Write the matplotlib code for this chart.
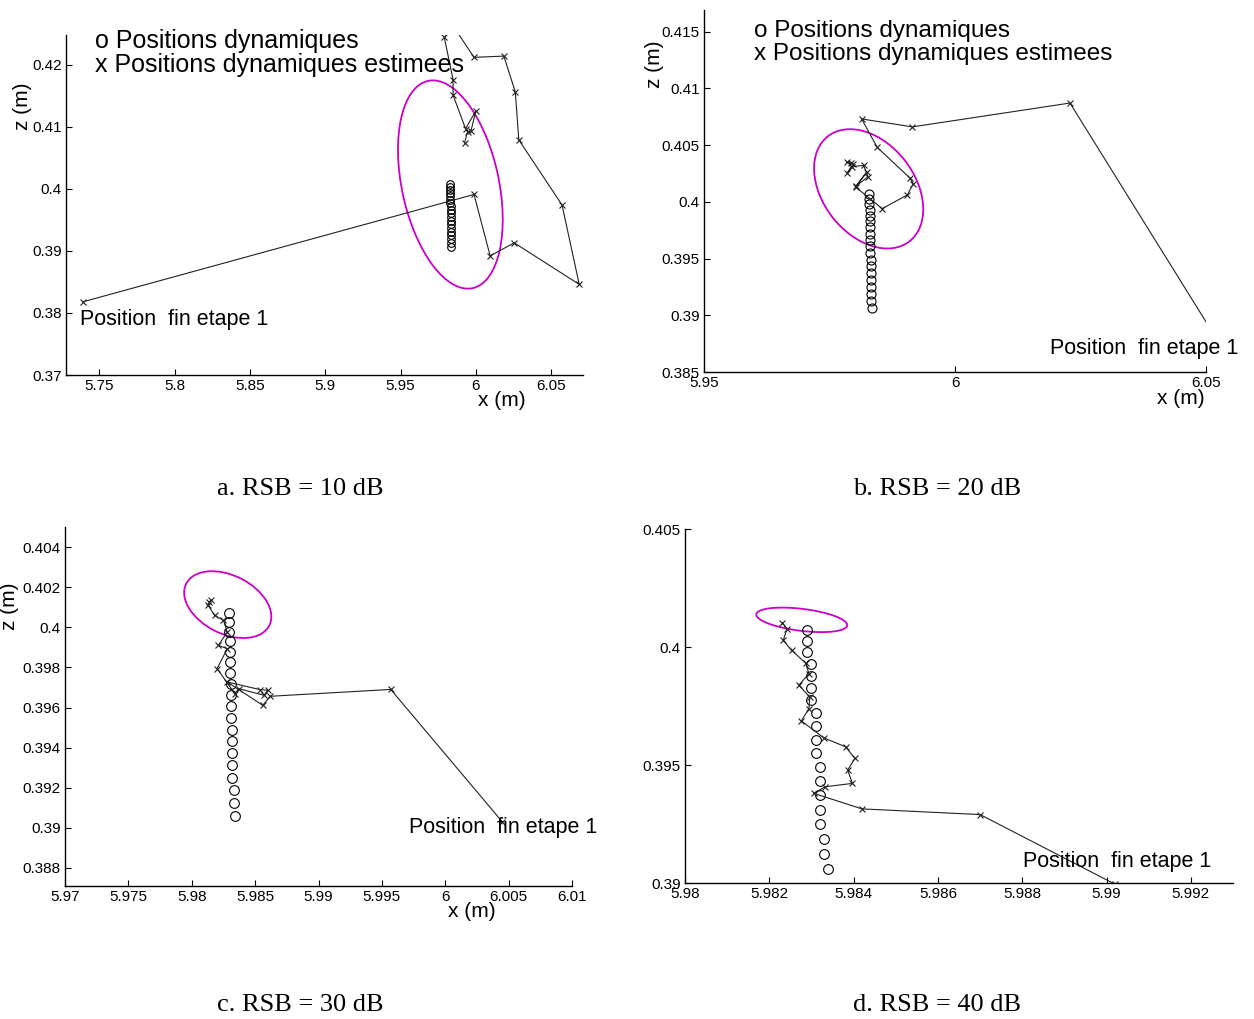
import numpy as np
import matplotlib
matplotlib.use("Agg")
import matplotlib.pyplot as plt
import matplotlib.ticker as tkr
from matplotlib import transforms
from matplotlib.patches import Ellipse

plt.rcParams['font.family'] = ['Liberation Sans', 'DejaVu Sans']

# true (dynamic) positions, same for the four panels
true_x = [5.9829, 5.9829, 5.9829, 5.9830, 5.9830, 5.9830, 5.9830, 5.9831, 5.9831, 5.9831,
          5.9831, 5.9832, 5.9832, 5.9832, 5.9832, 5.9832, 5.9833, 5.9833, 5.9834]
true_z = [0.40071, 0.40025, 0.39978, 0.39930, 0.39879, 0.39827, 0.39774, 0.39719, 0.39664, 0.39608,
          0.39550, 0.39490, 0.39432, 0.39372, 0.39311, 0.39249, 0.39188, 0.39125, 0.39061]

# estimated positions, RSB = 10 dB
est_x_a = [5.7393, 5.9987, 6.0094, 6.0254, 6.0685, 6.0571, 6.0284, 6.0261, 6.0185, 5.9987,
           5.9850, 5.9790, 5.9848, 5.9848, 5.9931, 6.0000, 5.9967, 5.9944, 5.9924]
est_z_a = [0.3818, 0.3991, 0.3892, 0.3913, 0.3846, 0.3974, 0.4079, 0.4156, 0.4214, 0.4212,
           0.4262, 0.4244, 0.4176, 0.4151, 0.4097, 0.4126, 0.4094, 0.4092, 0.4074]

# RSB = 20 dB
est_x_b = [6.0520, 6.0229, 5.9915, 5.9814, 5.9845, 5.9910, 5.9917, 5.9905, 5.9855, 5.9802,
           5.9824, 5.9803, 5.9827, 5.9818, 5.9794, 5.9785, 5.9797, 5.9784, 5.9792]
est_z_b = [0.3880, 0.4087, 0.4066, 0.4073, 0.4048, 0.4021, 0.4016, 0.4006, 0.3994, 0.4013,
           0.4026, 0.4014, 0.4022, 0.4032, 0.4031, 0.4025, 0.4033, 0.4035, 0.4034]

# RSB = 30 dB
est_x_c = [6.0045, 5.9957, 5.9862, 5.9856, 5.9828, 5.9854, 5.9860, 5.9857, 5.9837, 5.9834,
           5.9820, 5.9828, 5.9821, 5.9828, 5.9825, 5.9818, 5.9813, 5.9814, 5.9815]
est_z_c = [0.3903, 0.3969, 0.39656, 0.39611, 0.39727, 0.39689, 0.39686, 0.39661, 0.39694, 0.39669,
           0.39794, 0.39893, 0.3991, 0.39976, 0.40035, 0.40059, 0.40109, 0.40126, 0.40135]

# RSB = 40 dB
est_x_d = [5.9902, 5.9870, 5.9842, 5.98305, 5.98333, 5.98397, 5.98386, 5.98403, 5.98381, 5.98329,
           5.98276, 5.98294, 5.98296, 5.98270, 5.98294, 5.98286, 5.98253, 5.98233, 5.98242, 5.98231]
est_z_d = [0.38995, 0.3929, 0.39314, 0.39380, 0.39408, 0.39422, 0.39479, 0.39528, 0.39577, 0.39615,
           0.39687, 0.39739, 0.39788, 0.39838, 0.39887, 0.39932, 0.39986, 0.40028, 0.40077, 0.40103]

captions = ["a. RSB = 10 dB", "b. RSB = 20 dB", "c. RSB = 30 dB", "d. RSB = 40 dB"]
legend_lines = ["o Positions dynamiques", "x Positions dynamiques estimees"]
end_label = "Position  fin etape 1"

W, H = 1254, 1019
fig = plt.figure(figsize=(W / 100, H / 100), dpi=100)


def add_axes(l, r, t, b):
    return fig.add_axes([l / W, 1 - b / H, (r - l) / W, (b - t) / H])


def panel(ax, ex, ez, xlim, ylim, xt, yt, circ_ms):
    ax.plot(true_x, true_z, 'o', mfc='none', mec='k', mew=0.8, ms=circ_ms)
    ax.plot(ex, ez, '-x', color='#222222', lw=0.8, ms=5, mew=0.8)
    ax.set_xlim(*xlim)
    ax.set_ylim(*ylim)
    ax.set_xticks(xt)
    ax.set_yticks(yt)
    ax.xaxis.set_major_formatter(tkr.FormatStrFormatter('%g'))
    ax.yaxis.set_major_formatter(tkr.FormatStrFormatter('%g'))
    ax.tick_params(direction='in', length=4, width=0.8, labelsize=11, pad=3)
    for s in ['top', 'right']:
        ax.spines[s].set_visible(False)
    for s in ['left', 'bottom']:
        ax.spines[s].set_linewidth(1.0)


def ellipse(ax, cx, cz, w, h, ang):
    tr = fig.dpi_scale_trans + transforms.ScaledTranslation(cx, cz, ax.transData)
    ax.add_patch(Ellipse((0, 0), w, h, angle=ang, transform=tr, fill=False,
                         edgecolor='#c800c8', linewidth=1.3))


# a
ax = add_axes(66, 583, 35, 375)
panel(ax, est_x_a, est_z_a, (5.728, 6.071), (0.37, 0.4248),
      np.arange(5.75, 6.06, 0.05), np.arange(0.37, 0.421, 0.01), 5.5)
ellipse(ax, 5.983, 0.4007, 2.12, 0.97, -77.9)
ax.text(0.056, 0.982, legend_lines[0], transform=ax.transAxes, fontsize=18, va='center')
ax.text(0.056, 0.912, legend_lines[1], transform=ax.transAxes, fontsize=18, va='center')
ax.text(0.027, 0.162, end_label, transform=ax.transAxes, fontsize=15.5, va='center')
ax.text(0.843, -0.076, "x (m)", transform=ax.transAxes, fontsize=15, ha='center', va='center')
ax.text(-0.085, 0.79, "z (m)", transform=ax.transAxes, fontsize=15, ha='center', va='center', rotation=90)

# b
ax = add_axes(704, 1206, 10, 372)
panel(ax, est_x_b, est_z_b, (5.95, 6.05), (0.385, 0.4169),
      [5.95, 6.0, 6.05], np.arange(0.385, 0.4151, 0.005), 6.5)
ellipse(ax, 5.9828, 0.40114, 1.33, 0.92, -52.3)
ax.text(0.10, 0.942, legend_lines[0], transform=ax.transAxes, fontsize=17.5, va='center')
ax.text(0.10, 0.878, legend_lines[1], transform=ax.transAxes, fontsize=17.5, va='center')
ax.text(0.689, 0.064, end_label, transform=ax.transAxes, fontsize=15.5, va='center')
ax.text(0.950, -0.072, "x (m)", transform=ax.transAxes, fontsize=15, ha='center', va='center')
ax.text(-0.098, 0.85, "z (m)", transform=ax.transAxes, fontsize=15, ha='center', va='center', rotation=90)

# c
ax = add_axes(65, 572, 527, 886)
panel(ax, est_x_c, est_z_c, (5.97, 6.01), (0.3871, 0.405),
      np.arange(5.97, 6.0101, 0.005), np.arange(0.388, 0.4041, 0.002), 7)
ellipse(ax, 5.98284, 0.40113, 0.93, 0.584, -26.6)
ax.text(0.6785, 0.162, end_label, transform=ax.transAxes, fontsize=15.5, va='center')
ax.text(0.802, -0.072, "x (m)", transform=ax.transAxes, fontsize=15, ha='center', va='center')
ax.text(-0.11, 0.78, "z (m)", transform=ax.transAxes, fontsize=15, ha='center', va='center', rotation=90)

# d
ax = add_axes(685, 1233, 529, 883)
panel(ax, est_x_d, est_z_d, (5.98, 5.993), (0.39, 0.405),
      np.arange(5.98, 5.99201, 0.002), np.arange(0.39, 0.4051, 0.005), 7)
ellipse(ax, 5.98277, 0.40115, 0.916, 0.22, -7.0)
ax.text(0.617, 0.062, end_label, transform=ax.transAxes, fontsize=15.5, va='center')

cap_pos = [(300, 489), (937, 489), (300, 1005), (937, 1005)]
for (px, py), c in zip(cap_pos, captions):
    fig.text(px / W, 1 - py / H, c, fontsize=19, family=['Liberation Serif', 'DejaVu Serif'],
             ha='center', va='center')

fig.savefig("out.png", dpi=100)
